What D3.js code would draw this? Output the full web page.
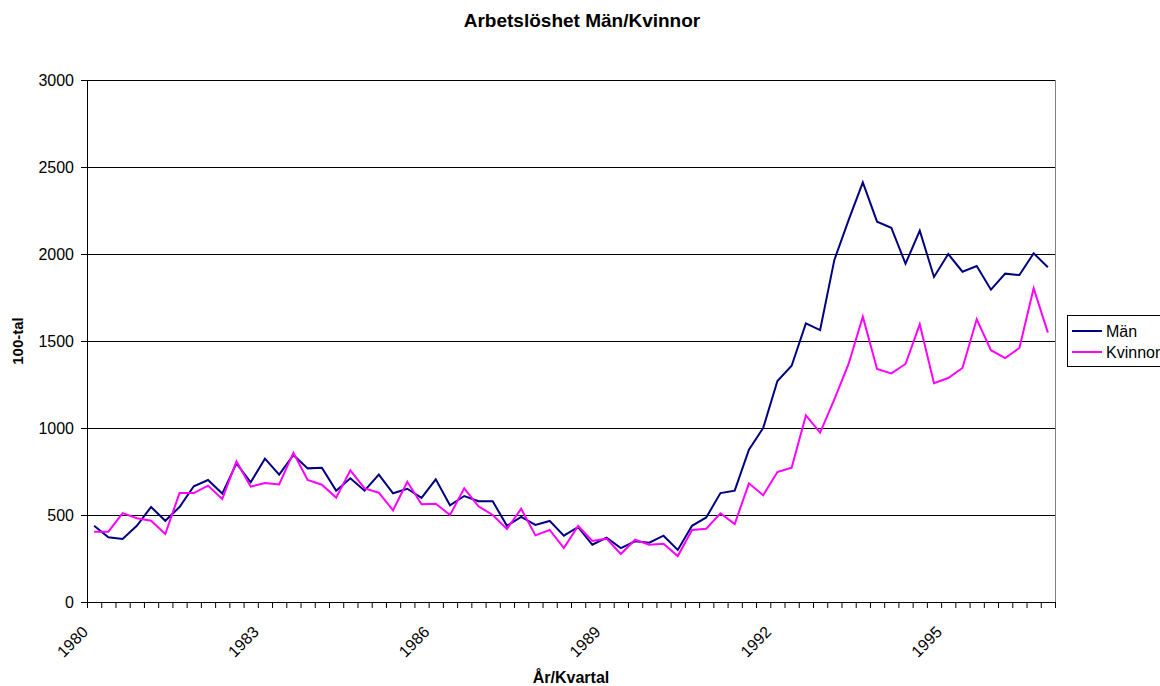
<!DOCTYPE html>
<html>
<head>
<meta charset="utf-8">
<script src="https://cdn.jsdelivr.net/npm/d3@7"></script>
<style>
	body { margin: 0; background: #fff; }
	svg { display: block; font-family: "Liberation Sans", Arial, sans-serif; }
	svg text { font-family: "Liberation Sans", Arial, sans-serif; }
	.axis text { font-size: 16px; fill: #000; }
	.axis path, .axis line { stroke: #000; }
</style>
</head>
<body>
<svg width="1160" height="686"></svg>
<script>
// kvartal 1980:1 - 1996:4, i 100-tal
const years = d3.range(1980, 1997).map(String);
const quarters = ["1", "2", "3", "4"];
const tickYears = ["1980", "1983", "1986", "1989", "1992", "1995"];

const man = [
	438, 372, 362, 438, 546, 467, 546, 665, 701, 623, 797, 688,
	824, 732, 845, 768, 772, 640, 711, 640, 732, 625, 651, 598,
	705, 556, 609, 579, 579, 438, 489, 443, 466, 381, 431, 329,
	370, 310, 349, 341, 381, 299, 438, 486, 626, 640, 875, 1000,
	1270, 1358, 1601, 1563, 1966, 2195, 2412, 2186, 2151, 1944, 2134, 1868,
	2000, 1898, 1931, 1795, 1887, 1879, 2004, 1924
];
const kvinnor = [
	404, 404, 511, 481, 467, 391, 626, 626, 669, 592, 808, 663,
	684, 676, 858, 701, 674, 600, 757, 653, 628, 527, 691, 562,
	565, 500, 653, 550, 500, 420, 536, 383, 414, 310, 437, 351,
	364, 276, 358, 329, 335, 264, 414, 421, 510, 448, 682, 613,
	747, 772, 1072, 973, 1165, 1368, 1640, 1339, 1314, 1368, 1596, 1257,
	1287, 1345, 1625, 1447, 1402, 1460, 1803, 1548
];

const categories = [];
years.forEach(y => quarters.forEach(q => categories.push(`${y}:${q}`)));

const serier = [
	{namn: "Män", data: man, farg: "#000080"},
	{namn: "Kvinnor", data: kvinnor, farg: "#ff00ff"}
];

const svg = d3.select("svg");
const plot = {left: 87, right: 1055, top: 80, bottom: 602};

const xi = d3.scaleLinear().domain([0, categories.length]).range([plot.left, plot.right]);
const x = d3.scaleBand().domain(categories).range([plot.left, plot.right]).paddingInner(0).paddingOuter(0);
const y = d3.scaleLinear().domain([0, 3000]).range([plot.bottom, plot.top]);
const yTicks = [0, 500, 1000, 1500, 2000, 2500, 3000];

// gridlines
svg.append("g")
	.selectAll("line")
	.data(yTicks.slice(1))
	.join("line")
	.attr("x1", plot.left)
	.attr("x2", plot.right)
	.attr("y1", d => y(d) + 0.5)
	.attr("y2", d => y(d) + 0.5)
	.attr("stroke", "#000")
	.attr("stroke-width", 1);

// right border of plot area
svg.append("line")
	.attr("x1", plot.right + 0.5).attr("x2", plot.right + 0.5)
	.attr("y1", plot.top).attr("y2", plot.bottom)
	.attr("stroke", "#808080");

const line = d3.line()
	.x((d, i) => x(categories[i]) + x.bandwidth() / 2)
	.y(d => y(d));

svg.append("g")
	.selectAll("path")
	.data(serier)
	.join("path")
	.attr("d", s => line(s.data))
	.attr("fill", "none")
	.attr("stroke", s => s.farg)
	.attr("stroke-width", 2)
	.attr("stroke-linejoin", "miter");

// axes
svg.append("g")
	.attr("class", "axis")
	.attr("transform", `translate(${plot.left},0)`)
	.call(d3.axisLeft(y).tickValues(yTicks).tickFormat(d3.format("d")).tickSize(6).tickSizeOuter(0).tickPadding(7))
	.call(g => g.selectAll(".tick text").attr("dy", "0.36em"));

svg.append("g")
	.attr("class", "axis")
	.attr("transform", `translate(0,${plot.bottom})`)
	.call(d3.axisBottom(xi).tickValues(d3.range(categories.length + 1)).tickFormat("").tickSize(6).tickSizeOuter(0));

svg.append("g")
	.attr("class", "axis")
	.selectAll("text")
	.data(tickYears)
	.join("text")
	.attr("transform", d => `translate(${xi(categories.indexOf(d + ":1")) + 2},${plot.bottom + 31}) rotate(-45)`)
	.attr("text-anchor", "end")
	.text(d => d);

// titles
svg.append("text")
	.attr("x", 582)
	.attr("y", 27)
	.attr("text-anchor", "middle")
	.attr("font-weight", "bold")
	.attr("font-size", "19px")
	.text("Arbetslöshet Män/Kvinnor");

svg.append("text")
	.attr("x", (plot.left + plot.right) / 2)
	.attr("y", 683)
	.attr("text-anchor", "middle")
	.attr("font-weight", "bold")
	.attr("font-size", "16px")
	.text("År/Kvartal");

svg.append("text")
	.attr("transform", `translate(23,${(plot.top + plot.bottom) / 2}) rotate(-90)`)
	.attr("text-anchor", "middle")
	.attr("font-weight", "bold")
	.attr("font-size", "15px")
	.text("100-tal");

// legend
const legend = svg.append("g").attr("transform", "translate(1067,315)");
legend.append("rect")
	.attr("x", 0.5).attr("y", 0.5)
	.attr("width", 110).attr("height", 51)
	.attr("fill", "#fff")
	.attr("stroke", "#000");

const item = legend.selectAll("g.item")
	.data(serier)
	.join("g")
	.attr("class", "item")
	.attr("transform", (d, i) => `translate(0,${16 + i * 21})`);

item.append("line")
	.attr("x1", 5).attr("x2", 35)
	.attr("stroke", d => d.farg)
	.attr("stroke-width", 2);

item.append("text")
	.attr("x", 39)
	.attr("dy", "0.36em")
	.attr("font-size", "16px")
	.text(d => d.namn);
</script>
</body>
</html>
